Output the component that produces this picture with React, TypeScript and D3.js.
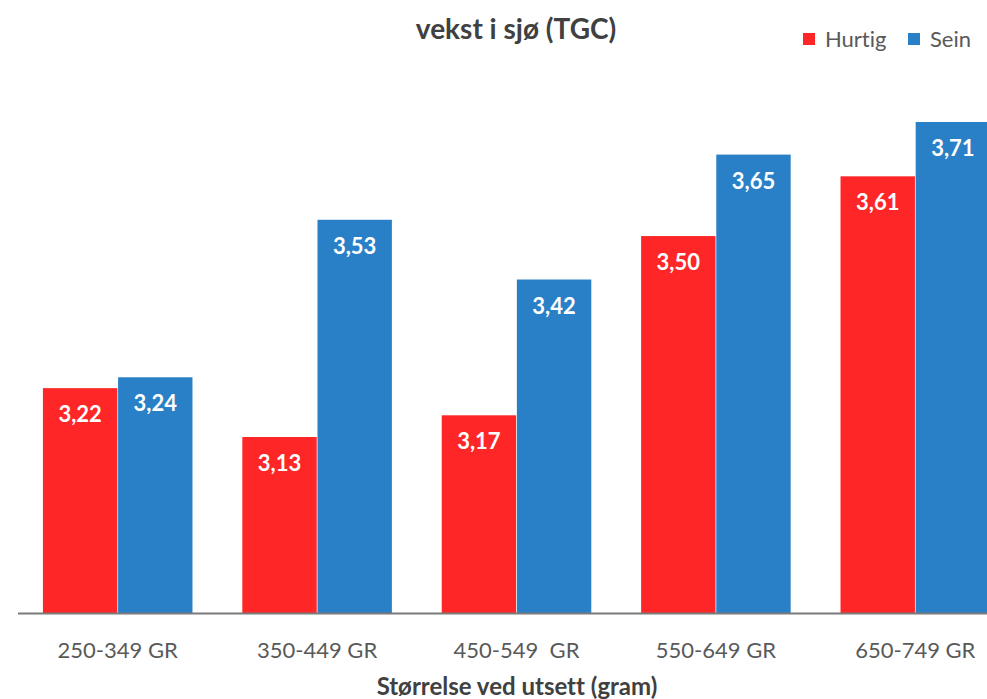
import { useMemo } from "react";
import * as d3 from "d3";

const categories = ["250-349 GR", "350-449 GR", "450-549  GR", "550-649 GR", "650-749 GR"];
const seriesNames = ["Hurtig", "Sein"];
const hurtig = [3.22, 3.13, 3.17, 3.5, 3.61];
const sein = [3.24, 3.53, 3.42, 3.65, 3.71];

const colors = ["#fe2626", "#2a80c6"];
const font = "Lato, 'Open Sans', sans-serif";

const width = 987;
const height = 699;

const App = () => {
  const x = useMemo(
    () => d3.scaleBand<string>().domain(categories).range([18, 1015]).paddingInner(0.25).paddingOuter(0.125),
    []
  );
  const x1 = useMemo(
    () => d3.scaleBand<string>().domain(seriesNames).range([0, x.bandwidth()]).paddingInner(0.01),
    [x]
  );
  const y = useMemo(() => d3.scaleLinear().domain([2.806, 3.71]).range([613, 122]), []);

  const values = [hurtig, sein];
  const fmt = (v: number) => d3.format(".2f")(v).replace(".", ",");

  return (
    <svg
      width={width}
      height={height}
      style={{ position: "absolute", left: 0, top: 0, background: "#fff", fontVariantLigatures: "none" }}
    >
      <text x={516} y={39} textAnchor="middle" fontFamily={font} fontWeight="bold" fontSize={28} fill="#404040">
        vekst i sjø (TGC)
      </text>
      {seriesNames.map((s, i) => {
        const lx = [803, 908][i];
        return (
          <g key={s}>
            <rect x={lx} y={33} width={12} height={12} fill={colors[i]} />
            <text x={lx + 22} y={47} fontFamily={font} fontSize={22} fill="#595959">
              {s}
            </text>
          </g>
        );
      })}
      {categories.map((c, ci) => (
        <g key={c}>
          {seriesNames.map((s, si) => {
            const v = values[si][ci];
            const bx = (x(c) ?? 0) + (x1(s) ?? 0);
            const bw = x1.bandwidth();
            return (
              <g key={s}>
                <rect x={bx} y={y(v)} width={bw} height={y.range()[0] - y(v)} fill={colors[si]} />
                <text
                  x={bx + bw / 2}
                  y={y(v) + 34}
                  textAnchor="middle"
                  fontFamily={font}
                  fontWeight="bold"
                  fontSize={22}
                  fill="#fff"
                >
                  {fmt(v)}
                </text>
              </g>
            );
          })}
          <text
            x={(x(c) ?? 0) + x.bandwidth() / 2}
            y={658}
            textAnchor="middle"
            fontFamily={font}
            fontSize={22}
            fill="#595959"
            style={{ whiteSpace: "pre" }}
          >
            {c}
          </text>
        </g>
      ))}
      <line x1={18} x2={width} y1={613.5} y2={613.5} stroke="#7a7a7a" strokeWidth={2} />
      <text x={517} y={695} textAnchor="middle" fontFamily={font} fontWeight="bold" fontSize={24} fill="#404040">
        Størrelse ved utsett (gram)
      </text>
    </svg>
  );
};

export default App;
